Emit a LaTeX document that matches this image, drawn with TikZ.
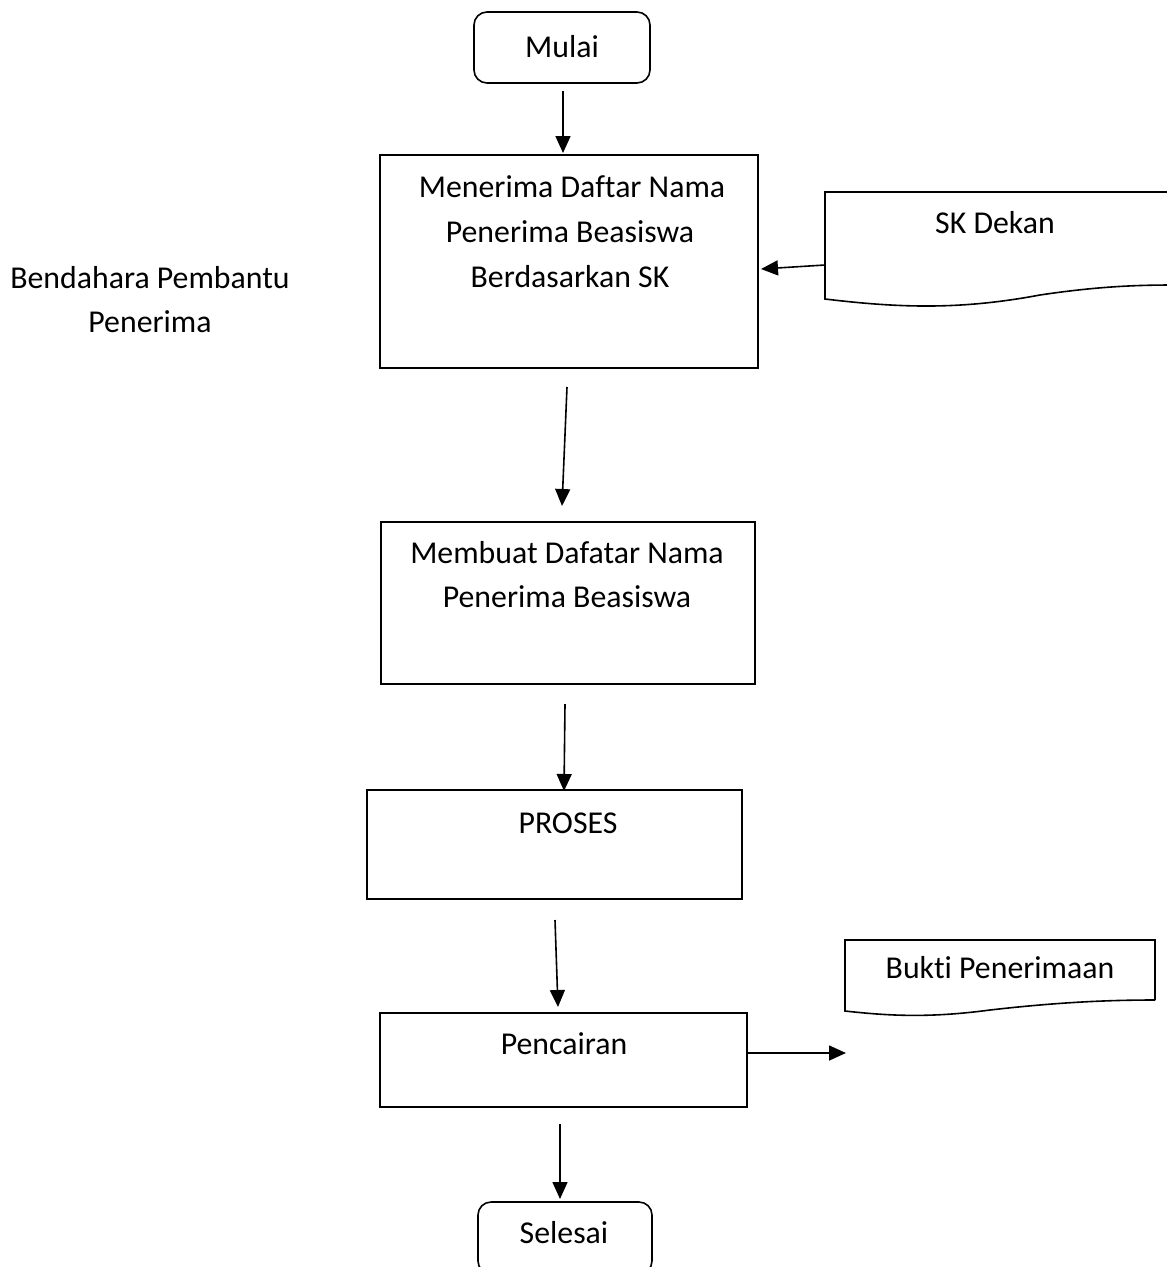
\documentclass[tikz,border=0pt]{standalone}
\usepackage{fontspec}
\setmainfont[Ligatures=NoCommon]{Carlito}
\usetikzlibrary{arrows.meta}
\begin{document}
\begin{tikzpicture}[x=1pt,y=-1pt,
  every node/.style={font=\fontsize{31.8}{44}\selectfont, inner sep=0pt},
  txt/.style={anchor=base},
  boxline/.style={draw=black, line width=1.6pt},
  flow/.style={line width=1.6pt, -{Triangle[length=17pt,width=15pt]}},
  term/.style={boxline, rounded corners=13pt}]
\useasboundingbox (0,0) rectangle (1167,1267);

% terminal and process boxes
\draw[term] (474,12) rectangle (650,83);
\draw[term] (478,1202) rectangle (652,1274);
\draw[boxline] (380,155) rectangle (758,368);
\draw[boxline] (381,522) rectangle (755,684);
\draw[boxline] (367,790) rectangle (742,899);
\draw[boxline] (380,1013) rectangle (747,1107);

% document shapes
\draw[boxline] (1175,192) -- (825,192) -- (825,299)
  .. controls (900,308) and (960,310) .. (1040,295)
  .. controls (1100,286) and (1140,285) .. (1175,285);
\draw[boxline] (1155,1000) -- (1155,940) -- (845,940) -- (845,1011)
  .. controls (890,1016) and (930,1018) .. (990,1010)
  .. controls (1060,1002) and (1110,1000) .. (1155,1000);

% labels
\node[txt] (mulai) at (562,57) {Mulai};
\node[txt] (t1a) at (572,197) {Menerima Daftar Nama};
\node[txt] (t1b) at (570,242) {Penerima Beasiswa};
\node[txt] (t1c) at (570,287) {Berdasarkan SK};
\node[txt] (sk) at (995,233) {SK Dekan};
\node[txt] (bp1) at (150,288) {Bendahara Pembantu};
\node[txt] (bp2) at (150,332) {Penerima};
\node[txt] (t2a) at (567,563) {Membuat Dafatar Nama};
\node[txt] (t2b) at (567,607) {Penerima Beasiswa};
\node[txt] (proses) at (568,833) {PROSES};
\node[txt] (cair) at (564,1054) {Pencairan};
\node[txt] (bukti) at (1000,978) {Bukti Penerimaan};
\node[txt] (selesai) at (564,1243) {Selesai};

% connector end points
\coordinate (a1s) at (563,91);   \coordinate (a1e) at (563,153);
\coordinate (a2s) at (567,387);  \coordinate (a2e) at (562,506);
\coordinate (a3s) at (565,704);  \coordinate (a3e) at (564,791);
\coordinate (a4s) at (555,920);  \coordinate (a4e) at (558,1007);
\coordinate (a5s) at (560,1124); \coordinate (a5e) at (560,1199);
\coordinate (sks) at (825,265);  \coordinate (ske) at (761,269);
\coordinate (bks) at (747,1053); \coordinate (bke) at (846,1053);

\draw[flow] (a1s) -- (a1e);
\draw[flow] (a2s) -- (a2e);
\draw[flow] (a3s) -- (a3e);
\draw[flow] (a4s) -- (a4e);
\draw[flow] (a5s) -- (a5e);
\draw[flow] (sks) -- (ske);
\draw[flow] (bks) -- (bke);
\end{tikzpicture}
\end{document}
